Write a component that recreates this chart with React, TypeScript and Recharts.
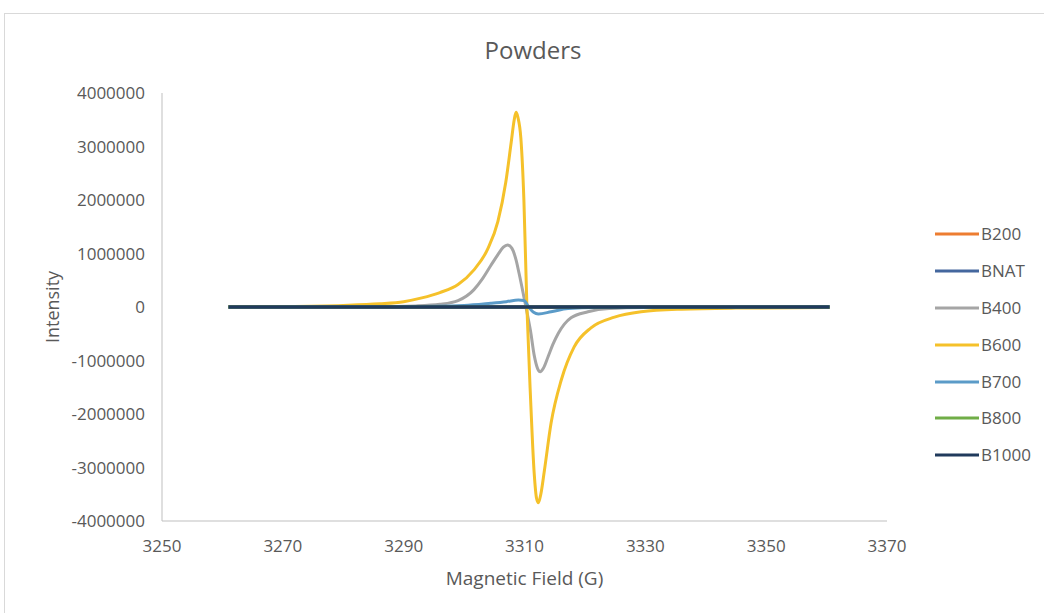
import React from 'react';
import { LineChart, Line, XAxis, YAxis } from 'recharts';

const TITLE = 'Powders';
const X_LABEL = 'Magnetic Field (G)';
const Y_LABEL = 'Intensity';

const X_TICKS = [3250, 3270, 3290, 3310, 3330, 3350, 3370];
const Y_TICKS = [-4000000, -3000000, -2000000, -1000000, 0, 1000000, 2000000, 3000000, 4000000];

const SERIES_NAMES = ['B200', 'BNAT', 'B400', 'B600', 'B700', 'B800', 'B1000'];
const SERIES_COLORS = ['#ED7D31', '#44679E', '#A5A5A5', '#F5C12A', '#5B9BC8', '#70AD47', '#203A5C'];

// flat series
const FLAT_FIELD = [3261, 3280, 3300, 3310, 3320, 3340, 3360.5];
const B200_INTENSITY = [0, 0, 0, 0, 0, 0, 0];
const BNAT_INTENSITY = [0, 0, 0, 0, 0, 0, 0];
const B800_INTENSITY = [0, 0, 0, 0, 0, 0, 0];
const B1000_INTENSITY = [0, 0, 0, 0, 0, 0, 0];

// B400
const B400_FIELD = [3261, 3285, 3292, 3296, 3299, 3301.6, 3303, 3304.4, 3305.6, 3306.5, 3307.2, 3307.9, 3308.6, 3309.1, 3309.9, 3310.5, 3311, 3311.6, 3312.2, 3312.6, 3313.1, 3313.9, 3314.7, 3315.6, 3316.6, 3317.7, 3320.5, 3324, 3330, 3360.5];
const B400_INTENSITY = [0, 5000, 20000, 50000, 120000, 320000, 520000, 770000, 980000, 1120000, 1160000, 1100000, 880000, 630000, 190000, -150000, -450000, -900000, -1160000, -1210000, -1150000, -930000, -700000, -490000, -320000, -200000, -90000, -30000, -10000, 0];

// B600
const B600_FIELD = [3261, 3270, 3280, 3286, 3290, 3293, 3296, 3299, 3301.6, 3303.9, 3305.6, 3306.9, 3307.8, 3308.3, 3308.6, 3308.9, 3309.4, 3309.9, 3310.4, 3311, 3311.6, 3312, 3312.3, 3312.7, 3313.3, 3314.4, 3316.1, 3318.2, 3321, 3324.9, 3329.3, 3336, 3345, 3360.5];
const B600_INTENSITY = [5000, 10000, 30000, 60000, 100000, 170000, 270000, 420000, 690000, 1080000, 1600000, 2330000, 3080000, 3500000, 3640000, 3550000, 3150000, 2000000, 0, -1700000, -3100000, -3580000, -3660000, -3500000, -3050000, -2170000, -1360000, -750000, -390000, -190000, -90000, -40000, -20000, -10000];

// B700
const B700_FIELD = [3261, 3290, 3300, 3304.4, 3307, 3309, 3309.9, 3310.7, 3311.5, 3312.3, 3314.4, 3317.2, 3322, 3360.5];
const B700_INTENSITY = [0, 10000, 30000, 70000, 100000, 130000, 120000, 0, -100000, -130000, -90000, -30000, -10000, 0];

const zip = (xs: number[], ys: number[]) => xs.map((x, i) => ({ x, y: ys[i] }));

const SERIES_DATA = [
  zip(FLAT_FIELD, B200_INTENSITY),
  zip(FLAT_FIELD, BNAT_INTENSITY),
  zip(B400_FIELD, B400_INTENSITY),
  zip(B600_FIELD, B600_INTENSITY),
  zip(B700_FIELD, B700_INTENSITY),
  zip(FLAT_FIELD, B800_INTENSITY),
  zip(FLAT_FIELD, B1000_INTENSITY),
];

const FONT = "'Open Sans', sans-serif";
const TEXT = '#595959';
const AXIS = '#BFBFBF';

export default function App() {
  return (
    <div style={{ position: 'absolute', left: 0, top: 0, width: 1044, height: 613, background: '#fff', overflow: 'hidden', fontFamily: FONT }}>
      <div style={{ position: 'absolute', left: 4, top: 13, width: 1100, height: 700, border: '1px solid #D9D9D9', boxSizing: 'border-box' }} />
      <div style={{ position: 'absolute', left: 0, width: 1066, top: 33, textAlign: 'center', fontSize: 24, color: TEXT, lineHeight: '34px' }}>{TITLE}</div>
      <div style={{ position: 'absolute', left: 0, top: 0 }}>
        <LineChart width={1044} height={613} margin={{ top: 93, right: 157, bottom: 32, left: 0 }}>
          <XAxis
            type="number"
            dataKey="x"
            domain={[3250, 3370]}
            ticks={X_TICKS}
            allowDataOverflow
            tickLine={false}
            tickSize={6}
            tickMargin={13}
            height={60}
            stroke={AXIS}
            tick={{ fill: TEXT, fontSize: 17, fontFamily: FONT }}
            label={{
              content: (props: any) => {
                const vb = props.viewBox || {};
                return (
                  <text x={vb.x + vb.width / 2} y={vb.y + 64} textAnchor="middle" fill={TEXT} fontSize={19} fontFamily={FONT}>
                    {X_LABEL}
                  </text>
                );
              },
            }}
          />
          <YAxis
            type="number"
            domain={[-4000000, 4000000]}
            ticks={Y_TICKS}
            allowDataOverflow
            tickLine={false}
            tickSize={6}
            tickMargin={11}
            width={162}
            stroke={AXIS}
            tick={{ fill: TEXT, fontSize: 17, fontFamily: FONT }}
            label={{
              content: (props: any) => {
                const vb = props.viewBox || {};
                const cx = vb.x + 52;
                const cy = vb.y + vb.height / 2;
                return (
                  <text x={cx} y={cy} transform={`rotate(-90 ${cx} ${cy})`} textAnchor="middle" dominantBaseline="central" fill={TEXT} fontSize={18} fontFamily={FONT}>
                    {Y_LABEL}
                  </text>
                );
              },
            }}
          />
          {SERIES_NAMES.map((name, i) => (
            <Line
              key={name}
              data={SERIES_DATA[i]}
              dataKey="y"
              name={name}
              type="monotone"
              stroke={SERIES_COLORS[i]}
              strokeWidth={name === 'B1000' ? 3.5 : 3}
              dot={false}
              activeDot={false}
              isAnimationActive={false}
            />
          ))}
        </LineChart>
      </div>
      <div style={{ position: 'absolute', left: 935, top: 216 }}>
        {SERIES_NAMES.map((name, i) => (
          <div key={name} style={{ display: 'flex', alignItems: 'center', height: 36.8 }}>
            <svg width={44} height={6} style={{ display: 'block' }}>
              <line x1={0} y1={3} x2={44} y2={3} stroke={SERIES_COLORS[i]} strokeWidth={3} />
            </svg>
            <span style={{ marginLeft: 2, fontSize: 17, color: TEXT, lineHeight: '20px' }}>{name}</span>
          </div>
        ))}
      </div>
    </div>
  );
}
